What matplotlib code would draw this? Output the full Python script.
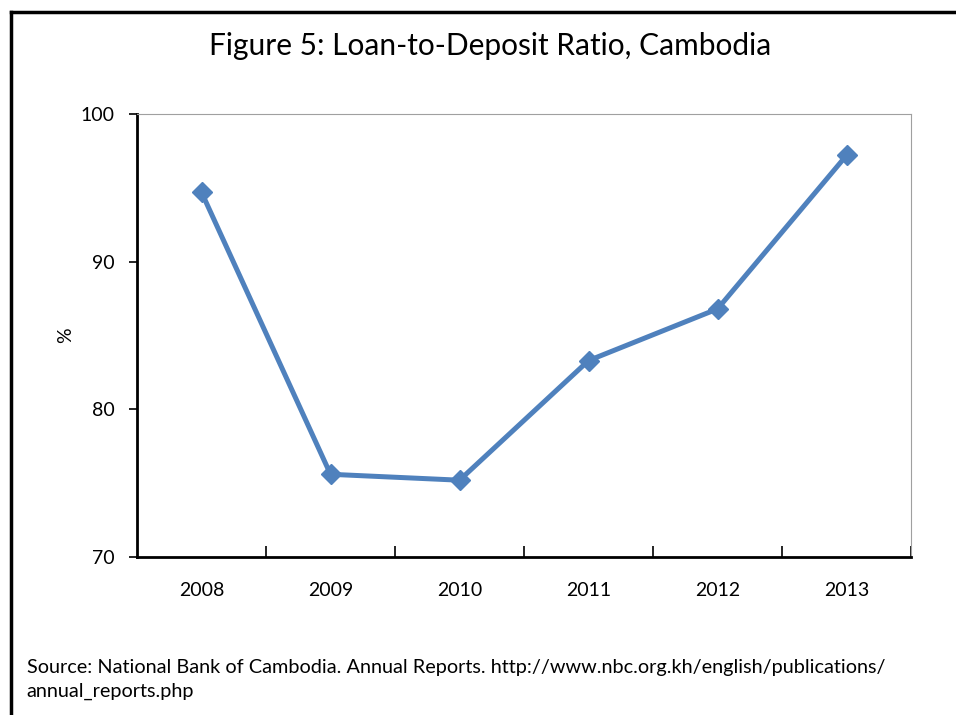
import matplotlib.pyplot as plt
from matplotlib.lines import Line2D

plt.rcParams['font.family'] = ['Lato', 'DejaVu Sans']

# Loan-to-deposit ratio (%)
anos = ['2008', '2009', '2010', '2011', '2012', '2013']
razao = [94.7, 75.6, 75.2, 83.3, 86.8, 97.2]

fig = plt.figure(figsize=(9.56, 7.15), dpi=100)
ax = fig.add_axes([0.1433, 0.221, 0.8097, 0.6196])

x = list(range(len(anos)))
ax.plot(x, razao, color='#4F81BD', linewidth=3.6, marker='D', markersize=10.5,
        markerfacecolor='#4F81BD', markeredgecolor='#4F81BD', solid_capstyle='round')

ax.set_xlim(-0.5, len(anos) - 0.5)
ax.set_ylim(70, 100)
ax.set_yticks([70, 80, 90, 100])
ax.tick_params(axis='y', direction='out', length=6, width=1.2, labelsize=14, pad=10)

# category labels centred, tick marks between categories
ax.set_xticks(x)
ax.set_xticklabels(anos)
ax.tick_params(axis='x', which='major', length=0, labelsize=14, pad=18)
ax.set_xticks([i + 0.5 for i in x], minor=True)
ax.tick_params(axis='x', which='minor', direction='in', length=8, width=1.2)

ax.spines['left'].set_linewidth(2)
ax.spines['bottom'].set_linewidth(2)
ax.spines['top'].set_color('#A0A0A0')
ax.spines['right'].set_color('#A0A0A0')

ax.set_ylabel('%', fontsize=14, labelpad=5)

fig.text(0.513, 0.935, 'Figure 5: Loan-to-Deposit Ratio, Cambodia',
         ha='center', va='center', fontsize=21.5)
fig.text(0.028, 0.050, 'Source: National Bank of Cambodia. Annual Reports. '
         'http://www.nbc.org.kh/english/publications/\nannual_reports.php',
         ha='left', va='center', fontsize=14.3, linespacing=1.5)

# frame lines at top and left of the figure
fig.add_artist(Line2D([0.0115, 1.0], [0.983, 0.983], color='black', linewidth=2.5,
                      transform=fig.transFigure))
fig.add_artist(Line2D([0.0115, 0.0115], [0.0, 0.983], color='black', linewidth=2.5,
                      transform=fig.transFigure))

plt.savefig('out.png', dpi=100)
